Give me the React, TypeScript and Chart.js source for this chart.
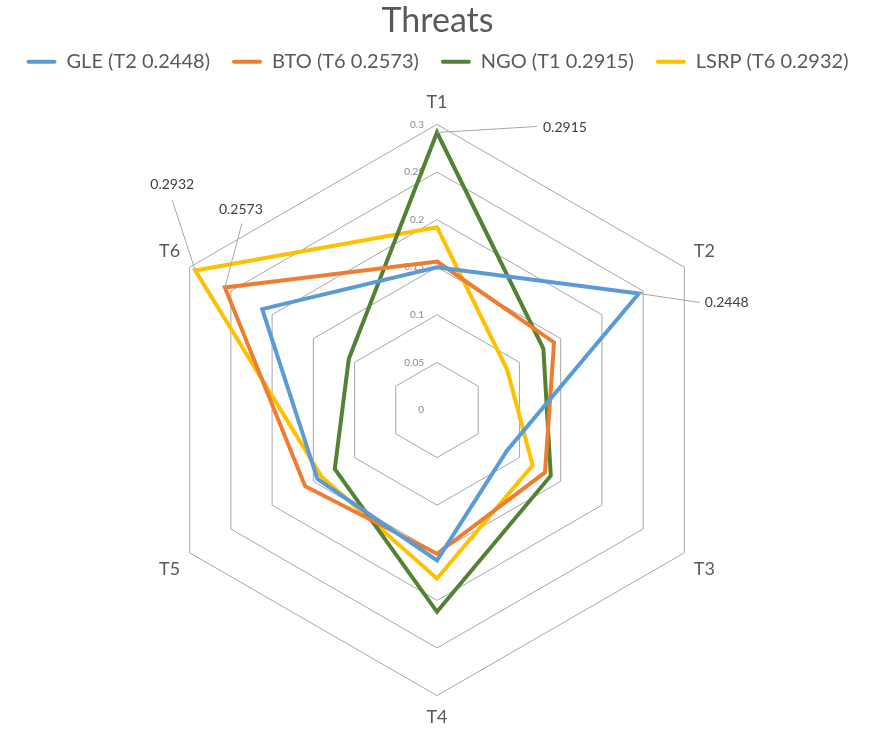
import React, { useEffect, useRef } from "react";
import { Chart, registerables } from "chart.js";

Chart.register(...registerables);

const CATEGORIES = ["T1", "T2", "T3", "T4", "T5", "T6"];
const SERIES_NAMES = ["GLE (T2 0.2448)", "BTO (T6 0.2573)", "NGO (T1 0.2915)", "LSRP (T6 0.2932)"];
const GLE = [0.150, 0.2448, 0.085, 0.158, 0.145, 0.212];
const BTO = [0.156, 0.142, 0.131, 0.151, 0.160, 0.2573];
const NGO = [0.2915, 0.129, 0.138, 0.212, 0.124, 0.107];
const LSRP = [0.192, 0.085, 0.116, 0.177, 0.140, 0.2932];
const TICK_VALUES = [0, 0.05, 0.1, 0.15, 0.2, 0.25, 0.3];
const TICK_LABELS = ["0", "0.05", "0.1", "0.15", "0.2", "0.25", "0.3"];
const COLORS = ["#5B9BD5", "#ED7D31", "#548235", "#FFC000"];

const FONT = "Lato, 'Open Sans', sans-serif";

const DATA_LABELS = [
  { ds: 2, idx: 0, text: "0.2915", lx: 100, ly: -6, tx: 106, ty: -5, align: "left" },
  { ds: 0, idx: 1, text: "0.2448", lx: 61, ly: 9, tx: 66, ty: 9, align: "left" },
  { ds: 3, idx: 5, text: "0.2932", lx: -23, ly: -70, tx: -23, ty: -86, align: "center" },
  { ds: 1, idx: 5, text: "0.2573", lx: 17, ly: -64, tx: 16, ty: -78, align: "center" },
];

const legendMarginPlugin = {
  id: "legendMargin",
  beforeInit(chart: any) {
    const lg = chart.legend;
    if (!lg) return;
    const orig = lg.fit;
    lg.fit = function () {
      orig.bind(lg)();
      this.height += 10;
    };
  },
};

const tickLabelsPlugin = {
  id: "tickLabels",
  beforeDatasetsDraw(chart: any) {
    const s = chart.scales.r;
    const ctx = chart.ctx;
    ctx.save();
    ctx.font = `10px ${FONT}`;
    ctx.fillStyle = "#8a8a8a";
    ctx.textAlign = "right";
    ctx.textBaseline = "middle";
    TICK_VALUES.forEach((v, i) => {
      const d = s.getDistanceFromCenterForValue(v);
      ctx.fillText(TICK_LABELS[i], s.xCenter - 13, s.yCenter - d);
    });
    ctx.restore();
  },
};

const dataLabelsPlugin = {
  id: "dataLabels",
  afterDatasetsDraw(chart: any) {
    const ctx = chart.ctx;
    ctx.save();
    DATA_LABELS.forEach((l) => {
      const pt = chart.getDatasetMeta(l.ds).data[l.idx];
      if (!pt) return;
      ctx.strokeStyle = "#a6a6a6";
      ctx.lineWidth = 1;
      ctx.beginPath();
      ctx.moveTo(pt.x, pt.y);
      ctx.lineTo(pt.x + l.lx, pt.y + l.ly);
      ctx.stroke();
      ctx.font = `14px ${FONT}`;
      ctx.fillStyle = "#404040";
      ctx.textAlign = l.align as CanvasTextAlign;
      ctx.textBaseline = "middle";
      ctx.fillText(l.text, pt.x + l.tx, pt.y + l.ty);
    });
    ctx.restore();
  },
};

export default function App() {
  const ref = useRef<HTMLCanvasElement>(null);
  useEffect(() => {
    if (!ref.current) return;
    const series = [GLE, BTO, NGO, LSRP];
    const chart = new Chart(ref.current, {
      type: "radar",
      data: {
        labels: CATEGORIES,
        datasets: series.map((d, i) => ({
          label: SERIES_NAMES[i],
          data: d,
          borderColor: COLORS[i],
          backgroundColor: COLORS[i],
          borderWidth: 4,
          fill: false,
          pointRadius: 0,
          pointHoverRadius: 0,
          borderJoinStyle: "miter",
        })),
      },
      options: {
        animation: false,
        responsive: true,
        maintainAspectRatio: false,
        layout: { padding: { top: 0, bottom: 0, left: 0, right: 10 } },
        plugins: {
          title: {
            display: true,
            text: "Threats",
            color: "#595959",
            font: { family: FONT, size: 34, weight: "normal" },
            padding: { top: 1, bottom: -12 },
          },
          legend: {
            display: true,
            position: "top",
            labels: {
              color: "#595959",
              font: { family: FONT, size: 20 },
              boxWidth: 30,
              boxHeight: 4,
              padding: 22,
              generateLabels(chart: any) {
                const items = Chart.defaults.plugins.legend.labels.generateLabels(chart);
                return items.map((it: any) => ({ ...it, lineWidth: 0, fillStyle: it.strokeStyle, borderRadius: 2 }));
              },
            },
          },
          tooltip: { enabled: false },
        },
        scales: {
          r: {
            min: 0,
            max: 0.3,
            beginAtZero: true,
            ticks: { stepSize: 0.05, display: false },
            grid: { circular: false, color: "#a6a6a6", lineWidth: 1 },
            angleLines: { display: false },
            pointLabels: {
              color: "#595959",
              font: { family: FONT, size: 18 },
              padding: 11,
            },
          },
        },
      },
      plugins: [legendMarginPlugin, tickLabelsPlugin, dataLabelsPlugin],
    });
    return () => chart.destroy();
  }, []);
  return (
    <div style={{ position: "fixed", left: 0, top: 0, width: 885, height: 730, background: "#fff" }}>
      <canvas ref={ref} />
    </div>
  );
}
